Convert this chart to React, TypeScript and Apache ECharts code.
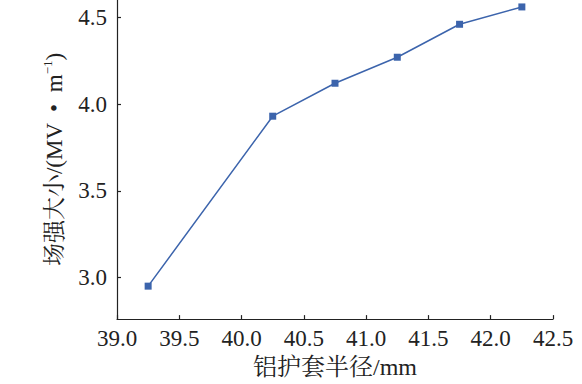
import React, { useEffect, useRef } from "react";
import * as echarts from "echarts";

const xValues = [39.25, 40.25, 40.75, 41.25, 41.75, 42.25];
const yValues = [2.95, 3.93, 4.12, 4.27, 4.46, 4.56];
const yTicks = [3.0, 3.5, 4.0, 4.5];
const xTitle = "铝护套半径/mm";
const yTitleMain = "场强大小/(MV  •  m";
const yTitleSup = "−1";
const yTitleEnd = ")";

const FONT = "Liberation Serif";
const CJK = "Liberation Serif, Noto Serif CJK SC, Noto Sans CJK SC";

export default function App() {
  const ref = useRef<HTMLDivElement>(null);
  useEffect(() => {
    if (!ref.current) return;
    const chart = echarts.init(ref.current, undefined, { renderer: "svg" });
    chart.setOption({
      animation: false,
      backgroundColor: "#ffffff",
      textStyle: { fontFamily: FONT },
      grid: { left: 117, right: 29, top: 0, bottom: 60 },
      xAxis: {
        type: "value",
        min: 39.0,
        max: 42.5,
        interval: 0.5,
        name: xTitle,
        nameLocation: "middle",
        nameGap: 34,
        nameTextStyle: { fontFamily: CJK, fontSize: 24, color: "#222" },
        axisLine: { show: true, onZero: false, lineStyle: { color: "#222", width: 1.2 } },
        axisTick: { show: true, inside: true, length: 4, lineStyle: { color: "#222", width: 1.2 } },
        axisLabel: {
          fontFamily: FONT,
          fontSize: 23,
          color: "#222",
          margin: 8,
          formatter: (v: number) => v.toFixed(1),
        },
        splitLine: { show: false },
      },
      yAxis: {
        type: "value",
        min: 2.76,
        max: 4.6,
        name: "{m|" + yTitleMain + "}{s|" + yTitleSup + "}{m|" + yTitleEnd + "}",
        nameLocation: "middle",
        nameRotate: 90,
        nameGap: 50,
        nameTextStyle: {
          fontFamily: CJK,
          fontSize: 23,
          color: "#222",
          rich: {
            m: { fontFamily: CJK, fontSize: 23, color: "#222", lineHeight: 26 },
            s: { fontFamily: FONT, fontSize: 13, color: "#222", verticalAlign: "top", lineHeight: 13 },
          },
        },
        axisLine: { show: true, onZero: false, lineStyle: { color: "#222", width: 1.2 } },
        axisTick: {
          show: true,
          inside: true,
          length: 4,
          customValues: yTicks,
          lineStyle: { color: "#222", width: 1.2 },
        },
        axisLabel: {
          fontFamily: FONT,
          fontSize: 23,
          color: "#222",
          margin: 10,
          customValues: yTicks,
          formatter: (v: number) => v.toFixed(1),
        },
        splitLine: { show: false },
      },
      series: [
        {
          type: "line",
          data: xValues.map((x, i) => [x, yValues[i]]),
          symbol: "rect",
          symbolSize: 7,
          itemStyle: { color: "#3c64ac" },
          lineStyle: { color: "#3c64ac", width: 1.5 },
        },
      ],
    });
    return () => chart.dispose();
  }, []);
  return <div ref={ref} style={{ width: 582, height: 384, position: "absolute", left: 0, top: 0 }} />;
}
